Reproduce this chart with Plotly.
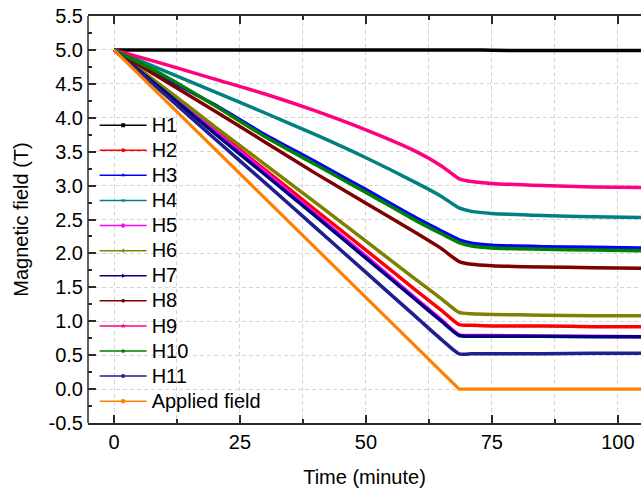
import plotly.graph_objects as go

# ---- data ----
time_min = [0, 10, 20, 30, 40, 50, 60, 65, 68.5, 71, 75, 85, 95, 105]

H1 = [5.00, 5.00, 5.00, 5.00, 5.00, 5.00, 5.00, 5.00, 5.00, 5.00, 4.995, 4.99, 4.99, 4.99]
H2 = [5.00, 4.41, 3.82, 3.23, 2.64, 2.05, 1.45, 1.16, 0.95, 0.94, 0.93, 0.93, 0.92, 0.92]
H3 = [5.00, 4.59, 4.19, 3.75, 3.35, 2.94, 2.52, 2.33, 2.20, 2.15, 2.12, 2.10, 2.09, 2.08]
H4 = [5.00, 4.69, 4.38, 4.07, 3.75, 3.41, 3.04, 2.84, 2.67, 2.62, 2.59, 2.56, 2.54, 2.53]
H5 = [5.00, 4.40, 3.80, 3.20, 2.58, 1.96, 1.33, 1.02, 0.80, 0.79, 0.79, 0.78, 0.78, 0.77]
H6 = [5.00, 4.44, 3.87, 3.31, 2.75, 2.18, 1.61, 1.33, 1.13, 1.11, 1.10, 1.09, 1.08, 1.08]
H7 = [5.00, 4.39, 3.77, 3.16, 2.55, 1.93, 1.31, 1.00, 0.79, 0.78, 0.78, 0.78, 0.77, 0.77]
H8 = [5.00, 4.55, 4.10, 3.64, 3.18, 2.74, 2.30, 2.07, 1.88, 1.84, 1.82, 1.80, 1.79, 1.78]
H9 = [5.00, 4.79, 4.57, 4.35, 4.10, 3.82, 3.50, 3.29, 3.10, 3.06, 3.03, 3.00, 2.98, 2.97]
H10 = [5.00, 4.62, 4.18, 3.72, 3.31, 2.90, 2.48, 2.29, 2.16, 2.11, 2.08, 2.06, 2.05, 2.04]
H11 = [5.00, 4.35, 3.69, 3.04, 2.38, 1.72, 1.06, 0.73, 0.52, 0.52, 0.52, 0.52, 0.53, 0.53]
applied_field = [5.00, 4.27, 3.54, 2.81, 2.08, 1.35, 0.62, 0.26, 0.00, 0.00, 0.00, 0.00, 0.00, 0.00]

series_names = ["H1", "H2", "H3", "H4", "H5", "H6", "H7", "H8", "H9", "H10", "H11", "Applied field"]
series_values = [H1, H2, H3, H4, H5, H6, H7, H8, H9, H10, H11, applied_field]
series_colors = ["#000000", "#FF0000", "#0000FF", "#008080", "#FF00FF", "#808000",
                 "#000080", "#800000", "#FF0080", "#008000", "#1F1F8F", "#FF8000"]
series_symbols = ["square", "circle", "triangle-up", "triangle-down", "diamond", "triangle-left",
                  "triangle-right", "hexagon", "star", "pentagon", "circle", "square"]

x_tick_vals = [0, 25, 50, 75, 100]
x_tick_text = ["0", "25", "50", "75", "100"]
y_tick_vals = [-0.5, 0.0, 0.5, 1.0, 1.5, 2.0, 2.5, 3.0, 3.5, 4.0, 4.5, 5.0, 5.5]
y_tick_text = ["-0.5", "0.0", "0.5", "1.0", "1.5", "2.0", "2.5", "3.0", "3.5", "4.0", "4.5", "5.0", "5.5"]
y_range = [-0.5, 5.5]
x_range = [-5.16, 104.6]

FONT = "Liberation Sans, Arial, sans-serif"
AXC = "#2b2b2b"
GRIDC = "#d4d4d4"
FS = 20

fig = go.Figure()

# plotted curves
for name, vals, color in zip(series_names, series_values, series_colors):
    is_applied = name == "Applied field"
    fig.add_trace(go.Scatter(
        x=time_min, y=vals, mode="lines", showlegend=False, hoverinfo="skip",
        line=dict(color=color, width=3.5 if not is_applied else 3.2,
                  shape="linear" if is_applied else "spline", smoothing=0.6),
    ))

# legend entries (thin line + small marker, as in the reference legend)
for name, color, sym in zip(series_names, series_colors, series_symbols):
    fig.add_trace(go.Scatter(
        x=[None], y=[None], mode="lines+markers",
        name='<span style="font-size:%dpx">%s</span>' % (FS, name),
        line=dict(color=color, width=1.5),
        marker=dict(symbol=sym, size=4, color=color),
    ))

axis_common = dict(
    ticks="inside", ticklen=8, tickwidth=1.5, tickcolor=AXC,
    showgrid=True, gridcolor=GRIDC, gridwidth=1, griddash="4px,3px",
    zeroline=False, tickfont=dict(family=FONT, size=FS, color="#000"),
)

fig.update_xaxes(
    range=x_range, tickvals=x_tick_vals, ticktext=x_tick_text,
    showline=True, linecolor=AXC, linewidth=1.5, mirror="ticks",
    title=dict(text="Time (minute)", font=dict(family=FONT, size=FS, color="#000"), standoff=18),
    minor=dict(dtick=12.5, tick0=0, ticks="inside", ticklen=4, tickwidth=1.5, tickcolor=AXC,
               showgrid=True, gridcolor=GRIDC, gridwidth=1, griddash="4px,3px"),
    **axis_common,
)
fig.update_yaxes(
    range=y_range, tickvals=y_tick_vals, ticktext=y_tick_text,
    showline=False, ticklabelstandoff=4,
    title=dict(text="Magnetic field (T)", font=dict(family=FONT, size=FS, color="#000"), standoff=14),
    minor=dict(dtick=0.25, tick0=0, ticks="inside", ticklen=4, tickwidth=1.5, tickcolor=AXC,
               showgrid=False),
    **axis_common,
)

# right-side ticks only (the right frame line falls outside the cropped picture)
fig.update_layout(yaxis2=dict(
    overlaying="y", side="right", anchor="x", range=y_range, tickvals=y_tick_vals,
    showticklabels=False, showgrid=False, zeroline=False, showline=False,
    ticks="inside", ticklen=8, tickwidth=1.5, tickcolor=AXC,
    minor=dict(dtick=0.25, tick0=0, ticks="inside", ticklen=4, tickwidth=1.5, tickcolor=AXC,
               showgrid=False),
))

# left axis line
fig.add_shape(type="line", xref="paper", yref="paper", x0=0, x1=0, y0=0, y1=1,
              line=dict(color=AXC, width=1.5), layer="above")

fig.update_layout(
    width=641, height=493,
    margin=dict(l=88, r=0, t=16, b=70, pad=0),
    paper_bgcolor="white", plot_bgcolor="white",
    font=dict(family=FONT, color="#000"),
    legend=dict(
        x=0.012, y=0.775, xanchor="left", yanchor="top",
        bgcolor="rgba(0,0,0,0)", borderwidth=0,
        font=dict(family=FONT, size=17, color="#000"),
        itemwidth=47, tracegroupgap=0,
    ),
)

fig.write_html("out.html")
